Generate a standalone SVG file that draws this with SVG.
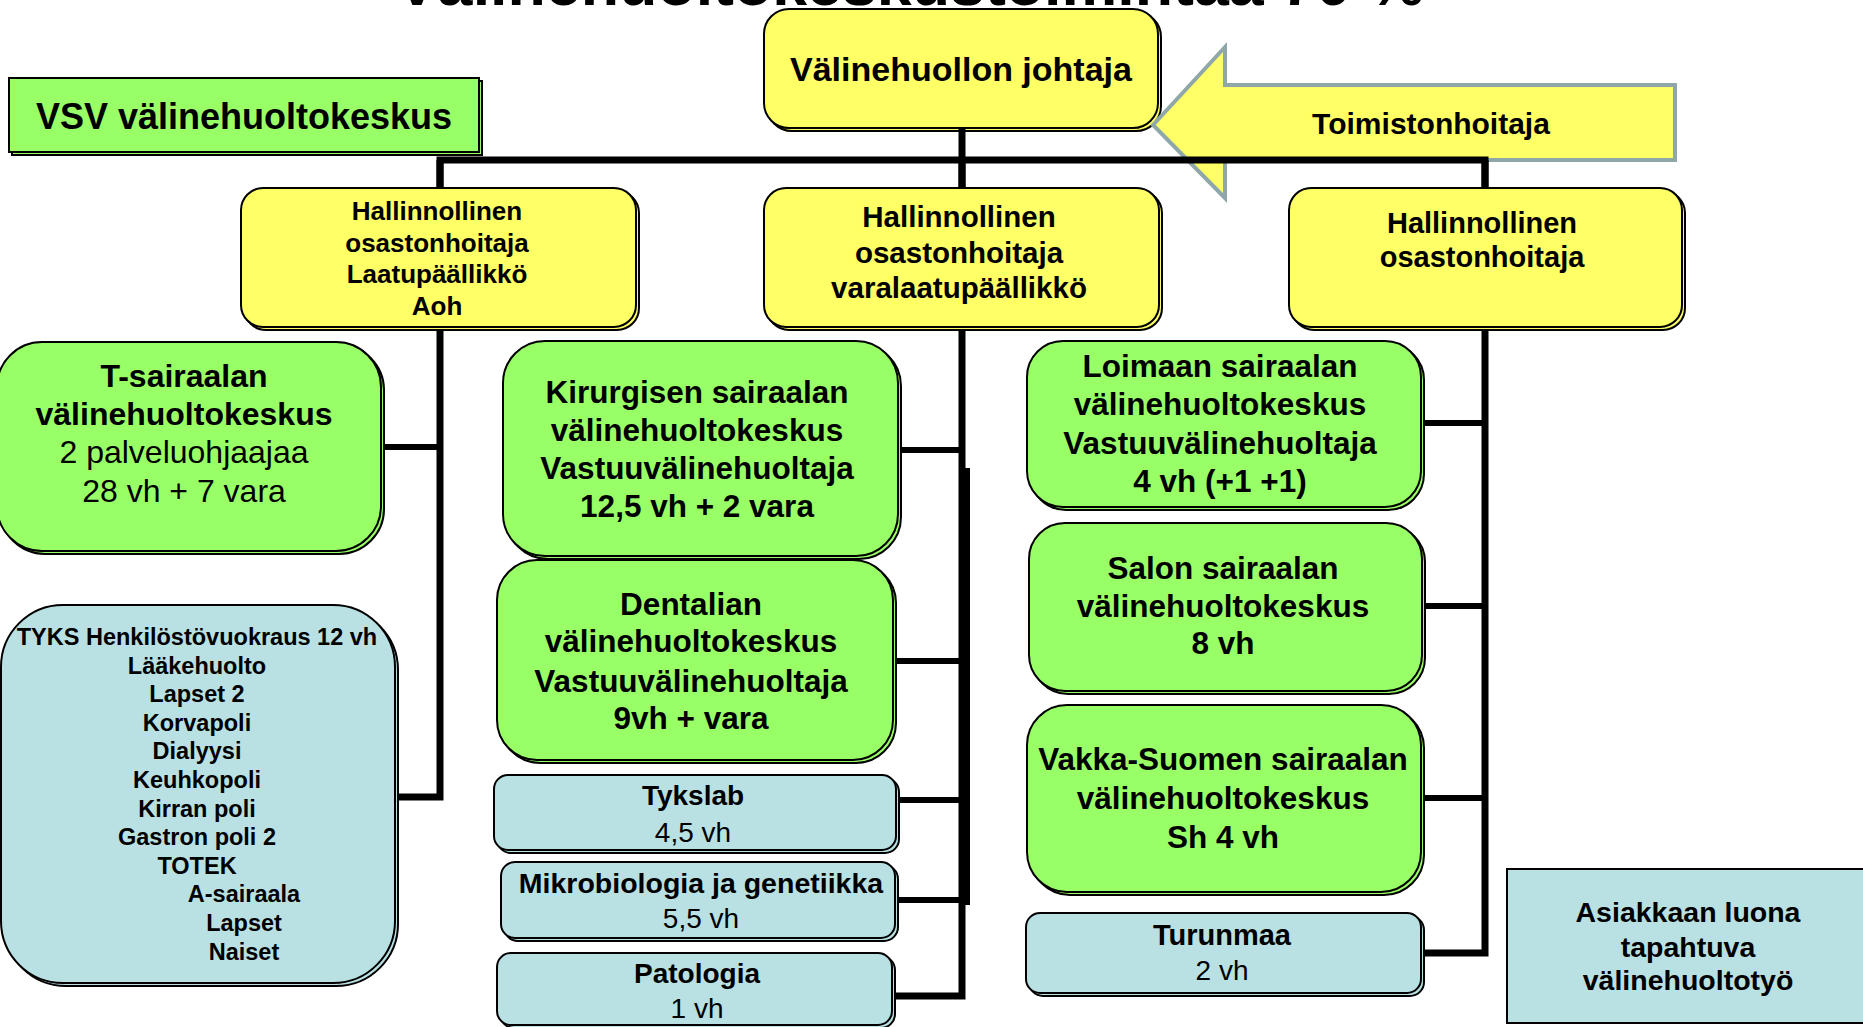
<svg xmlns="http://www.w3.org/2000/svg" width="1863" height="1027" viewBox="0 0 1863 1027">
<style>
text{font-family:"Liberation Sans",Arial,sans-serif;fill:#000;text-anchor:middle}
.bd{font-weight:bold}
.y{fill:#FFFF66;stroke:#000;stroke-width:2}
.g{fill:#99FF66;stroke:#000;stroke-width:2}
.b{fill:#B9E0E3;stroke:#000;stroke-width:2}
.sh{transform:translate(3px,3px)}
.c{fill:none;stroke:#000;stroke-width:7;stroke-linejoin:miter;stroke-linecap:butt}
.c2{fill:none;stroke:#000;stroke-width:6}
</style>
<rect width="1863" height="1027" fill="#fff"/>
<g id="title">
<text class="bd" x="396" y="5" font-size="62" style="text-anchor:start" textLength="1028" lengthAdjust="spacingAndGlyphs">Välinehuoltokeskustoimintaa 70 %</text>
</g>
<g id="n-johtaja">
<rect class="y sh" x="764" y="9" width="394" height="119" rx="25"/>
<rect class="y" x="764" y="9" width="394" height="119" rx="25"/>
<text class="bd" x="961" y="81" font-size="34">Välinehuollon johtaja</text>
</g>
<g id="n-toimistonhoitaja">
<polygon points="1153,125 1225,47 1225,85 1675,85 1675,160 1225,160 1225,198" fill="#FFFF66" stroke="#8FA7A9" stroke-width="4"/>
<text class="bd" x="1431" y="134" font-size="30">Toimistonhoitaja</text>
</g>
<g id="connectors">
<path class="c" d="M962 128 V190"/>
<path class="c" d="M440 190 V160 H1485 V190"/>
<path class="c" d="M440 160 V797 H395"/>
<path class="c2" d="M381 447 H440"/>
<path class="c" d="M962 160 V996 H892"/>
<path class="c2" d="M967 468 V905"/>
<path class="c2" d="M898 450 H962"/>
<path class="c2" d="M893 661 H962"/>
<path class="c2" d="M896 800 H962"/>
<path class="c2" d="M895 900 H965"/>
<path class="c" d="M1485 160 V953 H1421"/>
<path class="c2" d="M1421 423 H1485"/>
<path class="c2" d="M1422 606 H1485"/>
<path class="c2" d="M1421 798 H1485"/>
</g>
<g id="n-vsv">
<rect class="g sh" x="9" y="78" width="470" height="74"/>
<rect class="g" x="9" y="78" width="470" height="74"/>
<text class="bd" x="244" y="129" font-size="36">VSV välinehuoltokeskus</text>
</g>
<g id="n-hoh1">
<rect class="y sh" x="241" y="188" width="395" height="139" rx="22"/>
<rect class="y" x="241" y="188" width="395" height="139" rx="22"/>
<g class="bd" font-size="26">
<text x="437" y="220">Hallinnollinen</text>
<text x="437" y="251.5">osastonhoitaja</text>
<text x="437" y="283">Laatupäällikkö</text>
<text x="437" y="314.5">Aoh</text>
</g>
</g>
<g id="n-hoh2">
<rect class="y sh" x="764" y="188" width="395" height="139" rx="22"/>
<rect class="y" x="764" y="188" width="395" height="139" rx="22"/>
<g class="bd" font-size="29.5">
<text x="959" y="227">Hallinnollinen</text>
<text x="959" y="262.5">osastonhoitaja</text>
<text x="959" y="298">varalaatupäällikkö</text>
</g>
</g>
<g id="n-hoh3">
<rect class="y sh" x="1289" y="188" width="393" height="139" rx="22"/>
<rect class="y" x="1289" y="188" width="393" height="139" rx="22"/>
<g class="bd" font-size="29">
<text x="1482" y="233">Hallinnollinen</text>
<text x="1482" y="267">osastonhoitaja</text>
</g>
</g>
<g id="n-tsairaala">
<rect class="g sh" x="-3" y="342" width="384" height="209" rx="45"/>
<rect class="g" x="-3" y="342" width="384" height="209" rx="45"/>
<g font-size="32">
<text class="bd" x="184" y="387">T-sairaalan</text>
<text class="bd" x="184" y="425">välinehuoltokeskus</text>
<text x="184" y="463">2 palveluohjaajaa</text>
<text x="184" y="502">28 vh + 7 vara</text>
</g>
</g>
<g id="n-tyks">
<rect class="b sh" x="1" y="605" width="394" height="378" rx="62"/>
<rect class="b" x="1" y="605" width="394" height="378" rx="62"/>
<g class="bd" font-size="23.5">
<text x="197" y="645">TYKS Henkilöstövuokraus 12 vh</text>
<text x="197" y="673.6">Lääkehuolto</text>
<text x="197" y="702.2">Lapset 2</text>
<text x="197" y="730.8">Korvapoli</text>
<text x="197" y="759.4">Dialyysi</text>
<text x="197" y="788">Keuhkopoli</text>
<text x="197" y="816.6">Kirran poli</text>
<text x="197" y="845.2">Gastron poli 2</text>
<text x="197" y="873.8">TOTEK</text>
<text x="244" y="902.4">A-sairaala</text>
<text x="244" y="931">Lapset</text>
<text x="244" y="959.6">Naiset</text>
</g>
</g>
<g id="n-kirurginen">
<rect class="g sh" x="503" y="341" width="395" height="215" rx="42"/>
<rect class="g" x="503" y="341" width="395" height="215" rx="42"/>
<g class="bd" font-size="31.5">
<text x="697" y="403">Kirurgisen sairaalan</text>
<text x="697" y="440.5">välinehuoltokeskus</text>
<text x="697" y="478.5">Vastuuvälinehuoltaja</text>
<text x="697" y="516.5">12,5 vh + 2 vara</text>
</g>
</g>
<g id="n-dentalia">
<rect class="g sh" x="497" y="560" width="396" height="200" rx="40"/>
<rect class="g" x="497" y="560" width="396" height="200" rx="40"/>
<g class="bd" font-size="31.5">
<text x="691" y="615">Dentalian</text>
<text x="691" y="652">välinehuoltokeskus</text>
<text x="691" y="691.5">Vastuuvälinehuoltaja</text>
<text x="691" y="728.5">9vh + vara</text>
</g>
</g>
<g id="n-tykslab">
<rect class="b sh" x="494" y="775" width="402" height="75" rx="14"/>
<rect class="b" x="494" y="775" width="402" height="75" rx="14"/>
<text class="bd" x="693" y="805" font-size="28">Tykslab</text>
<text x="693" y="841.5" font-size="28">4,5 vh</text>
</g>
<g id="n-mikro">
<rect class="b sh" x="501" y="862" width="394" height="76" rx="14"/>
<rect class="b" x="501" y="862" width="394" height="76" rx="14"/>
<text class="bd" x="701" y="893" font-size="28.5">Mikrobiologia ja genetiikka</text>
<text x="701" y="928" font-size="28">5,5 vh</text>
</g>
<g id="n-patologia">
<rect class="b sh" x="497" y="953" width="395" height="72" rx="14"/>
<rect class="b" x="497" y="953" width="395" height="72" rx="14"/>
<text class="bd" x="697" y="983" font-size="28">Patologia</text>
<text x="697" y="1018" font-size="28">1 vh</text>
</g>
<g id="n-loimaa">
<rect class="g sh" x="1027" y="341" width="394" height="166" rx="36"/>
<rect class="g" x="1027" y="341" width="394" height="166" rx="36"/>
<g class="bd" font-size="31.5">
<text x="1220" y="377">Loimaan sairaalan</text>
<text x="1220" y="415">välinehuoltokeskus</text>
<text x="1220" y="453.5">Vastuuvälinehuoltaja</text>
<text x="1220" y="492">4 vh (+1 +1)</text>
</g>
</g>
<g id="n-salo">
<rect class="g sh" x="1029" y="523" width="393" height="168" rx="36"/>
<rect class="g" x="1029" y="523" width="393" height="168" rx="36"/>
<g class="bd" font-size="31.5">
<text x="1223" y="578.5">Salon sairaalan</text>
<text x="1223" y="616.5">välinehuoltokeskus</text>
<text x="1223" y="654">8 vh</text>
</g>
</g>
<g id="n-vakka">
<rect class="g sh" x="1027" y="705" width="394" height="187" rx="40"/>
<rect class="g" x="1027" y="705" width="394" height="187" rx="40"/>
<g class="bd" font-size="31.5">
<text x="1223" y="770">Vakka-Suomen sairaalan</text>
<text x="1223" y="809">välinehuoltokeskus</text>
<text x="1223" y="847.5">Sh 4 vh</text>
</g>
</g>
<g id="n-turunmaa">
<rect class="b sh" x="1026" y="913" width="395" height="80" rx="14"/>
<rect class="b" x="1026" y="913" width="395" height="80" rx="14"/>
<text class="bd" x="1222" y="945" font-size="29">Turunmaa</text>
<text x="1222" y="980" font-size="28">2 vh</text>
</g>
<g id="n-asiakas">
<rect class="b" x="1507" y="869" width="360" height="154"/>
<g class="bd" font-size="28.5">
<text x="1688" y="922">Asiakkaan luona</text>
<text x="1688" y="956.5">tapahtuva</text>
<text x="1688" y="990">välinehuoltotyö</text>
</g>
</g>
</svg>
